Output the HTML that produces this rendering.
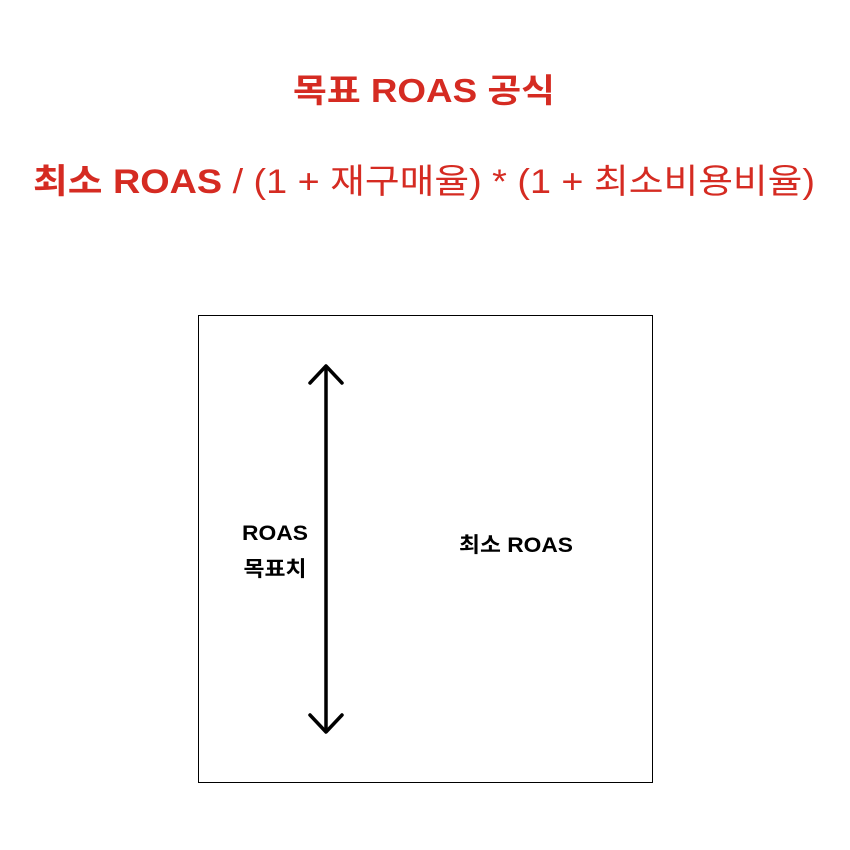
<!DOCTYPE html>
<html><head><meta charset="utf-8"><style>
html,body{margin:0;padding:0;background:#fff;}
svg{display:block;}
</style></head><body>
<svg width="850" height="850" viewBox="0 0 850 850" xmlns="http://www.w3.org/2000/svg" font-family="'Liberation Sans','Noto Sans CJK KR',sans-serif">
<text x="424" y="102" text-anchor="middle" font-size="33" font-weight="bold" fill="#d52b22" textLength="262" lengthAdjust="spacingAndGlyphs">목표 ROAS 공식</text>
<text x="424" y="193" text-anchor="middle" font-size="34" fill="#d52b22" textLength="782" lengthAdjust="spacingAndGlyphs"><tspan font-weight="bold">최소 ROAS</tspan> / (1 + 재구매율) * (1 + 최소비용비율)</text>
<rect x="198.5" y="315.5" width="454" height="467" fill="none" stroke="#000" stroke-width="1"/>
<g stroke="#000" stroke-width="3.5" fill="none" stroke-linecap="round" stroke-linejoin="round">
<line x1="326" y1="367" x2="326" y2="731"/>
<polyline points="310,383 326,366 342,383"/>
<polyline points="310,715 326,732 342,715"/>
</g>
<text x="275" y="540" text-anchor="middle" font-size="21" font-weight="bold" fill="#000" textLength="66" lengthAdjust="spacingAndGlyphs">ROAS</text>
<text x="275" y="576" text-anchor="middle" font-size="21" font-weight="bold" fill="#000" textLength="63" lengthAdjust="spacingAndGlyphs">목표치</text>
<text x="516" y="552" text-anchor="middle" font-size="21" font-weight="bold" fill="#000" textLength="114" lengthAdjust="spacingAndGlyphs">최소 ROAS</text>
</svg>
</body></html>
